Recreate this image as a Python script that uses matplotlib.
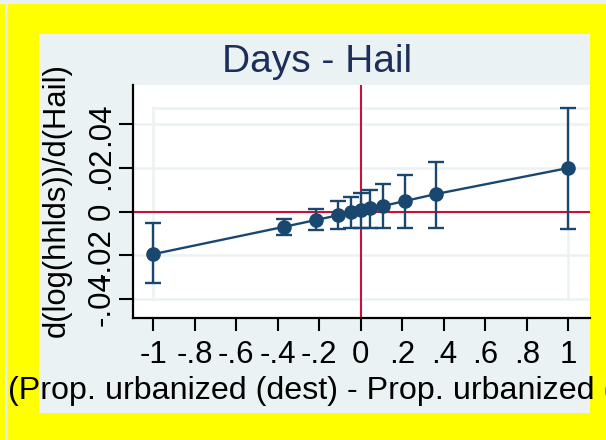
import numpy as np
import matplotlib
matplotlib.use("Agg")
import matplotlib.pyplot as plt
from matplotlib.patches import Rectangle

plt.rcParams['font.family'] = ['Liberation Sans', 'DejaVu Sans']

# values
urb_diff = [-1.0, -0.369, -0.216, -0.112, -0.045, 0.0, 0.043, 0.107, 0.215, 0.364, 0.997]
coef = [-0.0194, -0.0069, -0.0038, -0.0017, 0.0000, 0.0008, 0.0018, 0.0026, 0.0049, 0.0081, 0.0199]
ci_hi = [-0.0053, -0.0032, 0.0011, 0.0049, 0.0069, 0.0084, 0.0099, 0.0127, 0.0168, 0.0227, 0.0476]
ci_lo = [-0.0328, -0.0105, -0.0084, -0.0078, -0.0073, -0.0073, -0.0073, -0.0073, -0.0073, -0.0073, -0.0079]

xticks = [-1, -0.8, -0.6, -0.4, -0.2, 0, 0.2, 0.4, 0.6, 0.8, 1]
xticklabels = ["-1", "-.8", "-.6", "-.4", "-.2", "0", ".2", ".4", ".6", ".8", "1"]
yticks = [-0.04, -0.02, 0, 0.02, 0.04]
yticklabels = ["-.04", "-.02", "0", ".02", ".04"]

title = "Days - Hail"
xtitle = "(Prop. urbanized (dest) - Prop. urbanized (orig))"
ytitle = "d(log(hhlds))/d(Hail)"

W, H = 606, 440
navy = "#1A476F"
red = "#C8103A"
panel = "#EAF2F3"

def fx(px):
    return px / W

def fy(py):
    return 1 - py / H

fig = plt.figure(figsize=(W / 100, H / 100), dpi=100, facecolor="#FFFF00")

# outer decorations
fig.patches.append(Rectangle((0, fy(4)), 1, 4 / H, transform=fig.transFigure,
                             facecolor="#E9EFF2", edgecolor="none", zorder=-5))
fig.patches.append(Rectangle((fx(5), 0), 3 / W, fy(4), transform=fig.transFigure,
                             facecolor="#E6EBEE", edgecolor="none", zorder=-5))
fig.patches.append(Rectangle((fx(39), fy(413)), (590 - 39) / W, (413 - 34) / H,
                             transform=fig.transFigure, facecolor=panel,
                             edgecolor="none", zorder=-5))

ax = fig.add_axes([fx(133), fy(318), (590 - 133) / W, (318 - 85) / H])
ax.set_zorder(1)
ax.set_facecolor("white")
ax.set_xlim(-1.098, 1.105)
ax.set_ylim(-0.0486, 0.0579)

# light grid
for yv in yticks:
    ax.axhline(yv, color=panel, lw=1.8, zorder=0)
top_box = ci_hi[-1]
ax.plot([-1, 1.105], [top_box, top_box], color=panel, lw=1.8, zorder=0)
ax.plot([-1, -1], [-0.04, top_box], color=panel, lw=1.8, zorder=0)
ax.plot([1, 1], [-0.04, top_box], color=panel, lw=1.8, zorder=0)

ax.axhline(0, color=red, lw=1.5, zorder=1)
ax.axvline(0, color=red, lw=1.5, zorder=1)

x = np.array(urb_diff)
y = np.array(coef)
yerr = [y - np.array(ci_lo), np.array(ci_hi) - y]
ax.errorbar(x, y, yerr=yerr, fmt="none", ecolor=navy, elinewidth=1.7,
            capsize=6, capthick=1.7, zorder=2)
ax.plot(x, y, "-", color=navy, lw=1.7, zorder=3)
ax.plot(x, y, "o", color=navy, ms=9.5, zorder=4)

for s in ["top", "right"]:
    ax.spines[s].set_visible(False)
for s in ["left", "bottom"]:
    ax.spines[s].set_linewidth(1.6)

ax.set_xticks(xticks)
ax.set_xticklabels(xticklabels, fontsize=22.5)
ax.set_yticks(yticks)
ax.set_yticklabels(yticklabels, fontsize=22.5, rotation=90, va="center")
ax.tick_params(axis="x", direction="out", length=9.5, width=1.5, pad=6)
ax.tick_params(axis="y", direction="out", length=10, width=1.5, pad=2)

fig.text(fx(316.7), fy(72.3), title, ha="center", va="baseline",
         fontsize=28, color="#1E2E5A")
fig.text(fx(57), fy(200), ytitle, ha="center", va="center", rotation=90,
         fontsize=22.3, color="black")
fig.text(fx(8), fy(399), xtitle, ha="left", va="baseline",
         fontsize=23.2, color="black")

fig.savefig("out.png", dpi=100, facecolor=fig.get_facecolor())
